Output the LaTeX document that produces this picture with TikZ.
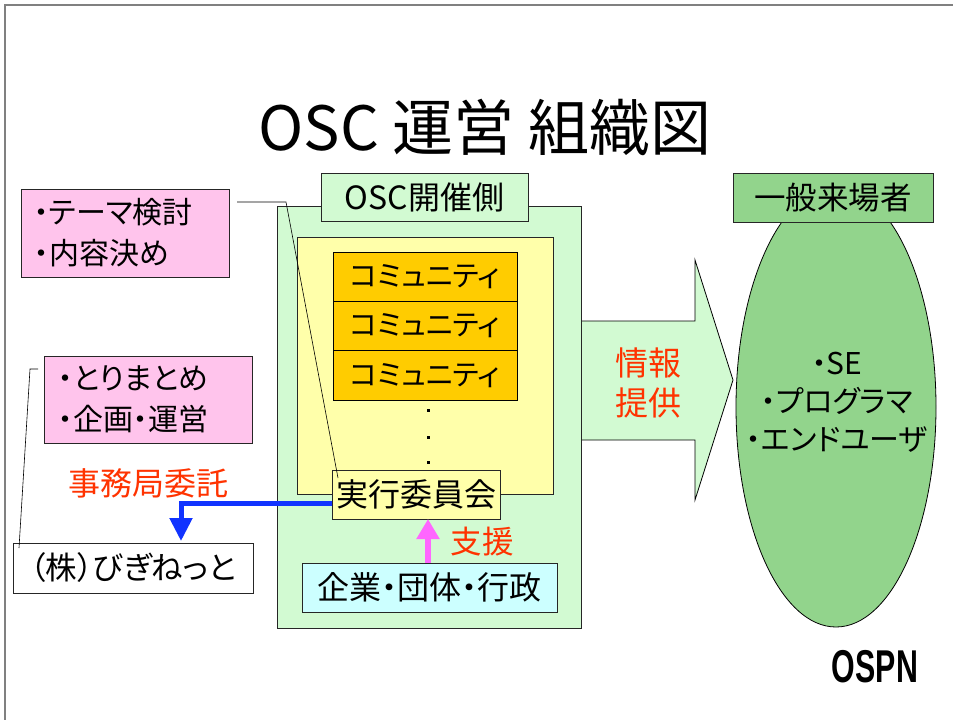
\documentclass[tikz,border=0pt]{standalone}
\usepackage{fontspec}
\setmainfont{Noto Sans CJK JP}[RawFeature=+palt]
\newfontfamily\ospnfont{Liberation Sans}[FakeStretch=0.66]
\usetikzlibrary{arrows.meta,shapes.geometric}
\definecolor{pinkfill}{RGB}{255,196,236}
\definecolor{greenlt}{RGB}{210,250,210}
\definecolor{yellowlt}{RGB}{255,255,170}
\definecolor{goldfill}{RGB}{255,204,0}
\definecolor{cyanlt}{RGB}{204,255,255}
\definecolor{greenmd}{RGB}{146,212,140}
\definecolor{redtxt}{RGB}{255,51,0}
\definecolor{bluearr}{RGB}{17,51,255}
\definecolor{magarr}{RGB}{255,102,255}
\definecolor{framegray}{RGB}{128,128,128}
\newcommand{\fsz}[1]{\fontsize{#1}{#1}\selectfont}
\begin{document}
\begin{tikzpicture}[x=1pt,y=-1pt,
  boxed/.style={draw=black!85,line width=0.8pt,inner sep=0pt,outer sep=0pt,anchor=center},
  leader/.style={draw=black,line width=0.6pt},
  redlabel/.style={text=redtxt,inner sep=0pt,align=center},
  plain/.style={inner sep=0pt,align=center}]
\useasboundingbox (0,0) rectangle (953,720);
\fill[white] (0,0) rectangle (953,720);
% frame
\draw[framegray,line width=2pt] (4.5,720) -- (4.5,5) -- (953,5);
% title
\node[plain] (title) at (485,127) {\fsz{61}OSC 運営 組織図};
% pink boxes
\node[boxed,fill=pinkfill,minimum height=88pt,align=left,inner xsep=13pt,text width=182pt,
  font=\fsz{30}] (pink1) at (125,233)
  {・テーマ検討\\[11pt]・内容決め};
\node[boxed,fill=pinkfill,minimum height=87pt,align=left,inner xsep=14pt,text width=180pt,
  font=\fsz{30}] (pink2) at (148,399.5)
  {・とりまとめ\\[11pt]・企画・運営};
\node[boxed,fill=white,minimum width=240pt,minimum height=50pt,font=\fsz{31.5}] (kabu) at (133,568) {（株）びぎねっと};
% big arrow
\coordinate (arrtip) at (733,380);
\fill[greenlt] (580,321) -- (695,321) -- (695,260) -- (arrtip) -- (695,500) -- (695,440) -- (580,440) -- cycle;
\draw[black,line width=0.8pt] (580,321) -- (695,321) -- (695,260) -- (arrtip) -- (695,500) -- (695,440) -- (580,440);
% OSC side
\node[boxed,fill=greenlt,minimum width=304pt,minimum height=422pt] (osc) at (429,417) {};
\node[boxed,fill=greenlt,minimum width=207pt,minimum height=48pt,font=\fsz{32}] (osclabel) at (424.5,197) {OSC開催側};
\node[boxed,fill=yellowlt,minimum width=256pt,minimum height=257pt] (yellow) at (425,365.5) {};
\node[boxed,draw=black,fill=goldfill,minimum width=184pt,minimum height=49.3pt,font=\fsz{29}] (comm1) at (425,276.7) {コミュニティ};
\node[boxed,draw=black,fill=goldfill,minimum width=184pt,minimum height=49.3pt,font=\fsz{29}] (comm2) at (425,326) {コミュニティ};
\node[boxed,draw=black,fill=goldfill,minimum width=184pt,minimum height=49.3pt,font=\fsz{29}] (comm3) at (425,375.3) {コミュニティ};
\fill[black] (426.5,408.5) rectangle +(3,3);
\fill[black] (426.5,435.5) rectangle +(3,3);
\fill[black] (426.5,460.5) rectangle +(3,3);
\node[boxed,fill=yellowlt,minimum width=168pt,minimum height=49pt,font=\fsz{32}] (jikko) at (416,494.5) {実行委員会};
\node[boxed,fill=cyanlt,minimum width=255pt,minimum height=49pt,font=\fsz{32}] (kigyo) at (429.5,587.5) {企業・団体・行政};
% leader lines
\coordinate (l1s) at (237,202);
\coordinate (l1m) at (286,202);
\coordinate (l1e) at (338,478);
\draw[leader] (l1s) -- (l1m) -- (l1e);
\coordinate (l2s) at (38,369);
\coordinate (l2m) at (30,369);
\coordinate (l2e) at (19,548);
\draw[leader] (l2s) -- (l2m) -- (l2e);
% blue arrow
\coordinate (bstart) at (332,503);
\coordinate (bend) at (181,541);
\draw[bluearr,line width=5pt,line join=miter,-{Triangle[length=23pt,width=22pt]}] (bstart) -| (bend);
% magenta arrow
\coordinate (mx) at (428,0);
\draw[magarr,line width=6pt,-{Triangle[length=20pt,width=22pt]}] (kigyo.north -| mx) -- (jikko.south -| mx);
% visitors
\node[ellipse,draw=black,line width=0.8pt,fill=greenmd,minimum width=200pt,minimum height=440pt,inner sep=0pt] (visitors) at (836,407) {};
\node[boxed,fill=greenmd,minimum width=200pt,minimum height=49pt,font=\fsz{31.5}] (ippan) at (833,197.5) {一般来場者};
\node[plain,font=\fsz{30}] (vtext) at (837,402) {・SE\\[8pt]・プログラマ\\[8pt]・エンドユーザ};
% red labels
\node[redlabel,font=\fsz{33}] (joho) at (648,383) {情報\\[7pt]提供};
\node[redlabel,font=\fsz{32}] (jimu) at (148,483) {事務局委託};
\node[redlabel,font=\fsz{31.5}] (shien) at (482,542) {支援};
% logo
\node[plain] (ospn) at (875,667) {\ospnfont\bfseries\fontsize{46}{46}\selectfont OSPN};
\end{tikzpicture}
\end{document}
